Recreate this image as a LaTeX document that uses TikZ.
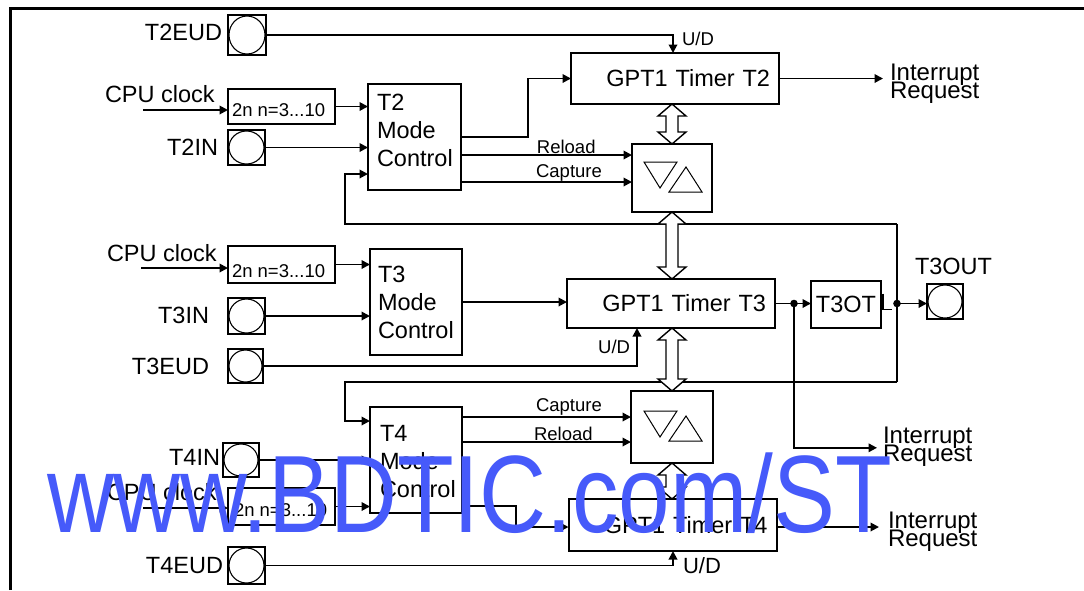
\documentclass[tikz,border=0pt]{standalone}
\usepackage{fontspec}
\setmainfont{Liberation Sans}
\usetikzlibrary{arrows.meta,calc}
\definecolor{wm}{RGB}{70,90,250}
\newcommand\irqfont{\fontsize{24}{18}\selectfont\lineskiplimit-50pt\relax}
\newcommand\dblarr[2]{\draw[dbl] let \p1=(#1), \p2=(#2) in (\x1,\y1) -- ++(14pt,-12pt) -- ++(-8pt,0pt) -- (\x1+6pt,\y2+12pt) -- ++(8pt,0pt) -- (\x1,\y2) -- ++(-14pt,12pt) -- ++(8pt,0pt) -- (\x1-6pt,\y1-12pt) -- ++(-8pt,0pt) -- cycle;}
\begin{document}
\begin{tikzpicture}[x=1pt,y=-1pt,
  every node/.style={inner sep=0pt, outer sep=0pt},
  ln/.style={line width=1.9pt},
  arr/.style={ln, -{Triangle[length=8.5pt,width=8.5pt]}},
  box/.style 2 args={draw, line width=2pt, minimum width=#1, minimum height=#2},
  pad/.style 2 args={box={#1}{#2}, path picture={\draw[line width=1.1pt] (path picture bounding box.center) ellipse [x radius=#1/2-1pt, y radius=#2/2-1pt];}},
  big/.style={font=\fontsize{23.5}{28}\selectfont},
  small/.style={font=\fontsize{18.5}{22}\selectfont},
  irq/.style={font=\irqfont, align=left, anchor=north west},
  timer/.style={box={208pt}{#1}, big, text width=190pt, align=right, inner xsep=9pt},
  cc/.style 2 args={box={#1}{#2}, path picture={
      \draw[line width=1pt] ([shift={(-28,-16)}]path picture bounding box.center) -- ++(33,0) -- ++(-17,26) -- cycle;
      \draw[line width=1pt] ([shift={(-3,14)}]path picture bounding box.center) -- ++(33,0) -- ++(-16,-25) -- cycle;}},
  dbl/.style={draw, fill=white, line width=1.4pt}
]
\fill[white] (0,0) rectangle (1084,590);
\useasboundingbox (0,0) rectangle (1084,590);
\draw[line width=3pt] (10,590) -- (10,8) -- (1084,8);

% ---------- T2 ----------
\node[pad={38pt}{40pt}] (t2eud) at (247,35) {};
\node[big, anchor=base east] (lt2eud) at (222,40) {T2EUD};
\node[box={107pt}{35pt}] (pre2) at (281.5,106.5) {};
\node[small, anchor=base west] (tpre2) at (232,116) {2n n=3...10};
\node[big, anchor=base west] (lcpu2) at (105,102) {CPU clock};
\coordinate (c2) at (143,110);
\node[pad={37pt}{35pt}] (t2in) at (246.5,147.5) {};
\node[big, anchor=base east] (lt2in) at (218,155) {T2IN};
\node[box={93pt}{106pt}] (t2mc) at (414.5,137) {};
\node[big, anchor=north west, align=left] (tt2mc) at (377,94) {T2\\Mode\\Control};
\node[timer=51pt] (t2) at (675,78.5) {GPT1 Timer T2};
\node[cc={80pt}{68pt}] (cc2) at (672,178) {};
\node[irq] (ir2) at (890,63.8) {Interrupt\\Request};

% ---------- T3 ----------
\node[big, anchor=base west] (lcpu3) at (107,261) {CPU clock};
\coordinate (c3) at (141,268);
\node[box={107pt}{37pt}] (pre3) at (281.5,264.5) {};
\node[small, anchor=base west] (tpre3) at (232,277) {2n n=3...10};
\node[pad={37pt}{36pt}] (t3in) at (246.5,316) {};
\node[big, anchor=base east] (lt3in) at (209,323) {T3IN};
\node[pad={35pt}{34pt}] (t3eud) at (245.5,366) {};
\node[big, anchor=base east] (lt3eud) at (209,374) {T3EUD};
\node[box={92pt}{106pt}] (t3mc) at (416,302) {};
\node[big, anchor=north west, align=left] (tt3mc) at (378,266.2) {T3\\Mode\\Control};
\node[timer=49pt] (t3) at (671,303.5) {GPT1 Timer T3};
\node[box={70pt}{47pt}, big] (t3ot) at (846,304.5) {T3OT};
\node[pad={36pt}{35pt}] (t3out) at (945,301.5) {};
\node[big, anchor=base west] (lt3out) at (915,274) {T3OUT};
\node[irq] (ir3) at (883,426.8) {Interrupt\\Request};

% ---------- T4 ----------
\node[pad={36pt}{34pt}] (t4in) at (241,460) {};
\node[big, anchor=base east] (lt4in) at (220,465) {T4IN};
\node[big, anchor=base west] (lcpu4) at (107,500) {CPU clock};
\coordinate (c4) at (143,508);
\node[box={107pt}{37pt}] (pre4) at (281.5,506.5) {};
\node[small, anchor=base west] (tpre4) at (234,516) {2n n=3...10};
\node[pad={37pt}{37pt}] (t4eud) at (246.5,565.5) {};
\node[big, anchor=base east] (lt4eud) at (223,573) {T4EUD};
\node[box={92pt}{106pt}] (t4mc) at (416,460) {};
\node[big, anchor=north west, align=left] (tt4mc) at (380,425.2) {T4\\Mode\\Control};
\node[cc={82pt}{72pt}] (cc4) at (672,427) {};
\node[timer=52pt] (t4) at (672.5,525) {GPT1 Timer T4};
\node[irq] (ir4) at (888,511.8) {Interrupt\\Request};

% ---------- connectors T2 ----------
\draw[arr] (t2eud.east) -| ($(t2.north)+(-2,0)$) node[small, anchor=base west, xshift=9pt, yshift=8pt] {U/D};
\draw[arr] (c2) -- (c2 -| pre2.west);
\draw[arr] (pre2.east) -- (pre2.east -| t2mc.west);
\draw[arr] (t2in.east) -- (t2in.east -| t2mc.west);
\draw[arr] (t2mc.east) -- ++(67,0) |- (t2.west);
\coordinate (r2) at ($(cc2.west)+(0,-23)$);
\coordinate (k2) at ($(cc2.west)+(0,4)$);
\draw[arr] (t2mc.east |- r2) -- node[small, pos=0.444, anchor=base west, yshift=2pt] {Reload} (r2);
\draw[arr] (t2mc.east |- k2) -- node[small, pos=0.439, anchor=base west, yshift=5pt] {Capture} (k2);
\draw[arr] (t2.east) -- ($(t2.east -| ir2.west)+(-7,0)$);

% ---------- connectors T3 ----------
\draw[arr] (c3) -- (c3 -| pre3.west);
\draw[arr] (pre3.east) -- (pre3.east -| t3mc.west);
\draw[arr] (t3in.east) -- (t3in.east -| t3mc.west);
\draw[arr] (t3mc.east) -- (t3mc.east -| t3.west);
\draw[arr] (t3eud.east) -| ($(t3.south)+(-34,0)$) node[small, anchor=base east, xshift=-7pt, yshift=-25pt] {U/D};
\coordinate (d1) at (794,303.5);
\coordinate (J) at (897,303.5);
\draw[ln] (t3.east) -- (d1);
\draw[arr] (d1) -- (d1 -| t3ot.west);
\draw[arr] (d1) |- ($(ir3.north west)+(-6,21)$);
\fill (d1) circle (3.8pt);
\draw[line width=1.3pt] ([shift={(2,-11)}]t3ot.east) -- ++(0,16) -- ++(9,0);
\coordinate (fbT) at (897,224);
\coordinate (fbB) at (897,382);
\coordinate (fbL) at (345,224);
\coordinate (fbL4) at (345,382);
\draw[ln] (fbT) -- (fbB);
\draw[arr] (fbT) -- (fbL) |- ($(t2mc.west)+(0,37)$);
\draw[arr] (fbB) -- (fbL4) |- ($(t4mc.west)+(0,-39)$);
\draw[arr] (J) -- (J -| t3out.west);
\fill (J) circle (3.8pt);

% ---------- connectors T4 ----------
\draw[arr] (t4in.east) -- (t4in.east -| t4mc.west);
\draw[arr] (c4) -- (c4 -| pre4.west);
\draw[arr] (pre4.east) -- (pre4.east -| t4mc.west);
\coordinate (k4) at ($(cc4.west)+(0,-10)$);
\coordinate (r4) at ($(cc4.west)+(0,15)$);
\draw[arr] (t4mc.east |- k4) -- node[small, pos=0.438, anchor=base west, yshift=6pt] {Capture} (k4);
\draw[arr] (t4mc.east |- r4) -- node[small, pos=0.426, anchor=base west, yshift=2pt] {Reload} (r4);
\draw[arr] ($(t4mc.east)+(0,46)$) -- ++(54,0) |- ($(t4.west)+(0,2)$);
\draw[arr] (t4eud.east) -| ($(t4.south)+(0.5,0)$) node[font=\fontsize{22}{26}\selectfont, anchor=base west, xshift=10pt, yshift=-22pt] {U/D};
\draw[arr] ($(t4.east)+(0,2)$) -- ($(t4.east -| ir4.west)+(-9,2)$);

% ---------- double arrows ----------
\dblarr{t2.south -| cc2.north}{cc2.north}
\dblarr{cc2.south}{cc2.south |- t3.north}
\dblarr{t3.south -| cc4.north}{cc4.north}
\dblarr{cc4.south}{cc4.south |- t4.north}

% ---------- watermark ----------
\node[font=\fontsize{110}{110}\selectfont, text=wm, anchor=base west, xscale=0.843] (wmark) at (47,532) {www.BDTIC.com/ST};
\end{tikzpicture}
\end{document}
